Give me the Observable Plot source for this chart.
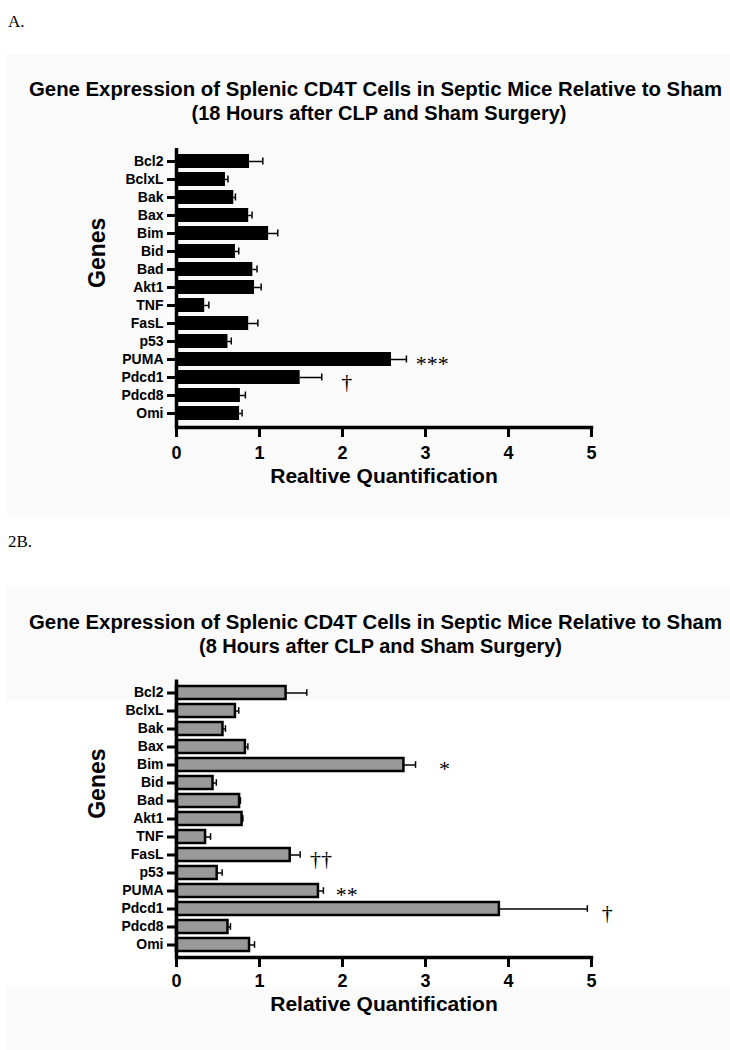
<!DOCTYPE html>
<html>
<head>
<meta charset="utf-8">
<script src="https://cdn.jsdelivr.net/npm/d3@7"></script>
<script src="https://cdn.jsdelivr.net/npm/@observablehq/plot@0.6"></script>
<style>
  body { margin:0; background:#fff; width:730px; height:1050px; position:relative; overflow:hidden;
         font-family:"Liberation Sans", Arial, sans-serif; }
  .abs { position:absolute; }
  .panel-label { font-family:"Liberation Serif","Times New Roman",serif; font-size:17px; left:8px; }
  .gray { background:#fafafa; left:6px; width:724px; }
</style>
</head>
<body>
<script>
// ---- data ----
const genes = ["Bcl2","BclxL","Bak","Bax","Bim","Bid","Bad","Akt1","TNF","FasL","p53","PUMA","Pdcd1","Pdcd8","Omi"];
const valuesA = [0.88,0.59,0.69,0.87,1.11,0.71,0.92,0.94,0.34,0.87,0.62,2.59,1.49,0.77,0.76];
const errA    = [0.16,0.03,0.02,0.04,0.11,0.04,0.05,0.08,0.05,0.11,0.04,0.18,0.26,0.06,0.03];
const valuesB = [1.32,0.71,0.56,0.83,2.74,0.44,0.76,0.79,0.35,1.37,0.49,1.71,3.89,0.62,0.88];
const errB    = [0.25,0.04,0.03,0.03,0.14,0.04,0.01,0.01,0.06,0.12,0.06,0.06,1.06,0.03,0.06];
const annGenesA = ["PUMA","Pdcd1"];
const annLabelsA = ["***","†"];
const annXA = [3.08, 2.05];
const annGenesB = ["Bim","FasL","PUMA","Pdcd1"];
const annLabelsB = ["*","††","**","†"];
const annXB = [3.23, 1.74, 2.05, 5.19];
const xTicks = [0,1,2,3,4,5];
const titleA = ["Gene Expression of Splenic CD4T Cells in Septic Mice Relative to Sham",
                "(18 Hours after CLP and Sham Surgery)"];
const titleB = ["Gene Expression of Splenic CD4T Cells in Septic Mice Relative to Sham",
                "(8 Hours after CLP and Sham Surgery)"];
const xLabelA = "Realtive Quantification";
const xLabelB = "Relative Quantification";
const yLabel = "Genes";

// ---- helpers ----
function addDiv(cls, top, height, text) {
  const d = document.createElement("div");
  d.className = "abs " + cls;
  d.style.top = top + "px";
  if (height != null) d.style.height = height + "px";
  if (text) d.textContent = text;
  document.body.appendChild(d);
  return d;
}
function addTitle(lines, top, widths, centers) {
  const ns = "http://www.w3.org/2000/svg";
  const svg = document.createElementNS(ns, "svg");
  svg.setAttribute("width", 730); svg.setAttribute("height", 60);
  svg.setAttribute("class", "abs");
  svg.style.top = top + "px"; svg.style.left = "0px";
  lines.forEach((t, i) => {
    const el = document.createElementNS(ns, "text");
    el.setAttribute("x", centers[i]);
    el.setAttribute("y", 20 + i * 24);
    el.setAttribute("text-anchor", "middle");
    el.setAttribute("font-size", 20);
    el.setAttribute("font-weight", "bold");
    el.setAttribute("font-family", "Liberation Sans, Arial, sans-serif");
    el.setAttribute("textLength", widths[i]);
    el.setAttribute("lengthAdjust", "spacingAndGlyphs");
    el.textContent = t;
    svg.appendChild(el);
  });
  document.body.appendChild(svg);
}
function chart(o) {
  const data = genes.map((g, i) => ({gene: g, value: o.values[i], err: o.errs[i]}));
  const ann = o.annGenes.map((g, i) => ({gene: g, label: o.annLabels[i], x: o.annX[i]}));
  const range = o.range;
  const p = Plot.plot({
    width: 730,
    height: o.marginTop + range + o.marginBottom,
    marginLeft: 176, marginRight: 139, marginTop: o.marginTop, marginBottom: o.marginBottom,
    style: {background: "transparent", fontFamily: "Liberation Sans, Arial, sans-serif", overflow: "visible", color: "black"},
    x: {domain: [0, 5]},
    y: {domain: genes, paddingInner: o.pIn, paddingOuter: o.pOut},
    marks: [
      Plot.barX(data, {x: "value", y: "gene", fill: o.fill, stroke: o.stroke, strokeWidth: o.strokeWidth}),
      Plot.ruleY(data, {y: "gene", x1: "value", x2: d => d.value + d.err, stroke: "black", strokeWidth: 1.5}),
      Plot.tickX(data, {x: d => d.value + d.err, y: "gene", stroke: "black", strokeWidth: 1.5, insetTop: o.capInset, insetBottom: o.capInset}),
      Plot.ruleX([0], {stroke: "black", strokeWidth: 3.5}),
      Plot.frame({anchor: "bottom", stroke: "black", strokeWidth: 3.5}),
      Plot.axisY({tickSize: 9, tickPadding: 4, fontSize: 14, fontWeight: "bold", strokeWidth: 3, label: null}),
      Plot.axisX({ticks: xTicks, tickFormat: d3.format("d"), tickSize: 10, tickPadding: o.tickPad, fontSize: 18, fontWeight: "bold", strokeWidth: 3, label: null}),
      Plot.text([o.xLabel], {frameAnchor: "bottom", dy: o.titleDy, fontSize: 21, fontWeight: "bold", fill: "black"}),
      Plot.text([yLabel], {frameAnchor: "left", dx: -79, rotate: -90, fontSize: 23, fontWeight: "bold", fill: "black"}),
      Plot.text(ann, {x: "x", y: "gene", text: "label", fontSize: 22, fill: "black", fontFamily: "Liberation Serif, Times New Roman, serif", dy: 4})
    ]
  });
  p.classList.add("abs");
  p.style.top = o.top + "px";
  p.style.left = "0px";
  document.body.appendChild(p);
}

// ---- panel A ----
addDiv("panel-label", 12, null, "A.");
addDiv("gray", 54, 461);
addTitle(titleA, 76, [693, 375], [375.5, 379]);
chart({values: valuesA, errs: errA, annGenes: annGenesA, annLabels: annLabelsA, annX: annXA,
       fill: "black", stroke: "none", strokeWidth: 0, pIn: 0.2, pOut: 0.1, range: 279,
       marginTop: 18, marginBottom: 73, top: 130, tickPad: 8.7, titleDy: 55, capInset: 3.5, xLabel: xLabelA});

// ---- panel B ----
addDiv("panel-label", 532, null, "2B.");
addDiv("gray", 587, 113);
addDiv("gray", 987, 63);
addTitle(titleB, 609, [693, 363], [375.5, 380.5]);
chart({values: valuesB, errs: errB, annGenes: annGenesB, annLabels: annLabelsB, annX: annXB,
       fill: "#999999", stroke: "black", strokeWidth: 2.5, pIn: 0.27, pOut: 0.2, range: 277.4,
       marginTop: 19.6, marginBottom: 70, top: 660, tickPad: 6.7, titleDy: 53, capInset: 3.2, xLabel: xLabelB});
</script>
</body>
</html>
